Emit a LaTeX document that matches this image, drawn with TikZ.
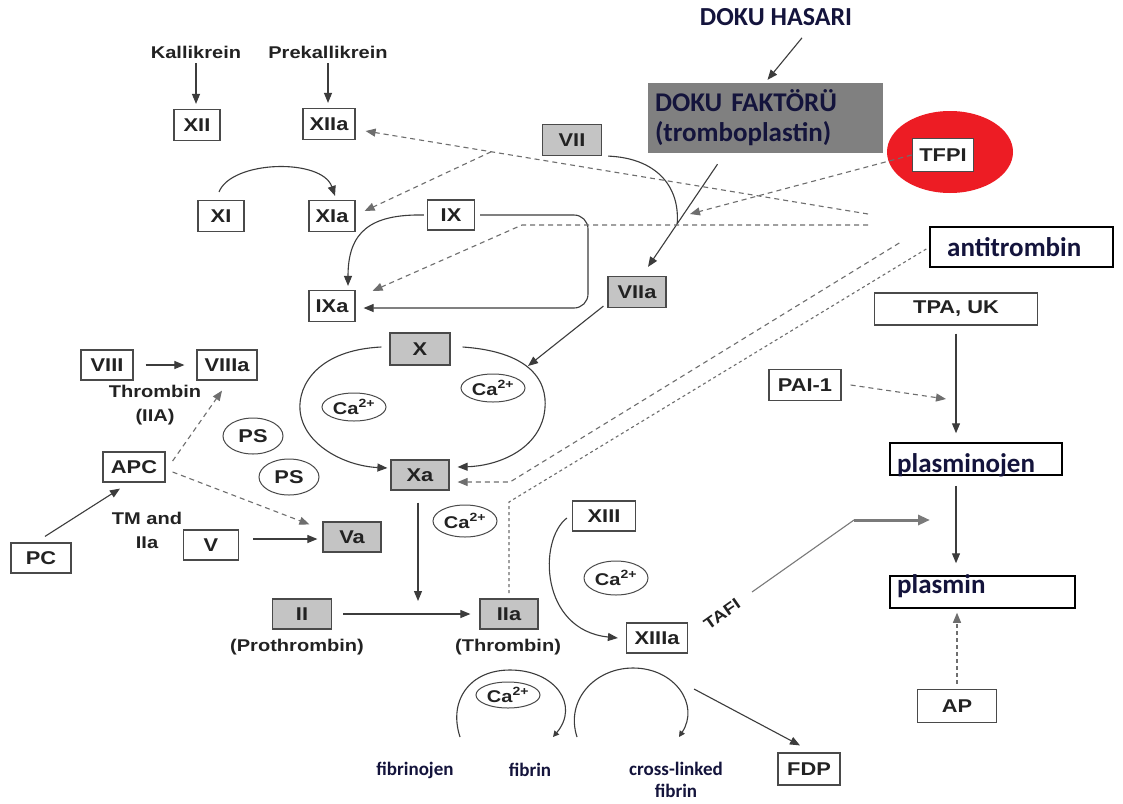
\documentclass[tikz,border=0pt]{standalone}
\usepackage{fontspec}
\usetikzlibrary{arrows.meta,shapes.geometric,calc}
\newfontfamily\scanfont{Liberation Sans}[FakeStretch=1.18]
\newfontfamily\calfont{Carlito}
\newcommand\lblfont{\scanfont\bfseries\fontsize{17}{20}\selectfont}
\newcommand\bxfont{\scanfont\bfseries\fontsize{18.5}{21}\selectfont}
\newcommand\cafont{\scanfont\bfseries\fontsize{17}{19}\selectfont}
\definecolor{boxfill}{HTML}{C4C4C4}
\definecolor{dfgray}{HTML}{808080}
\definecolor{bordc}{HTML}{4A4A4A}
\definecolor{linec}{HTML}{3C3C3C}
\definecolor{dashc}{HTML}{6E6E6E}
\definecolor{tfpired}{HTML}{ED1C24}
\definecolor{navy}{HTML}{14143C}
\definecolor{txtc}{HTML}{222222}
\definecolor{tafc}{HTML}{7A7A7A}
\tikzset{
 bx/.style={draw=bordc, line width=1.2pt, fill=white, inner sep=0pt, minimum height=31pt, font=\bxfont, text=txtc},
 gbx/.style={bx, fill=boxfill},
 tbox/.style={draw=black, line width=1.5pt, fill=white, inner sep=0pt},
 lab/.style={font=\lblfont, text=txtc, inner sep=0pt},
 calt/.style={font=\calfont\bfseries\fontsize{27}{30}\selectfont, text=navy, inner sep=0pt},
 cals/.style={font=\calfont\bfseries\fontsize{19}{22}\selectfont, text=navy, inner sep=0pt},
 ca/.style={ellipse, draw=bordc, line width=1pt, minimum width=64pt, minimum height=28pt, inner sep=0pt, font=\cafont, text=txtc},
 psell/.style={ellipse, draw=bordc, line width=1pt, minimum width=60pt, minimum height=36pt, inner sep=0pt, font=\bxfont, text=txtc},
 ln/.style={draw=linec, line width=1.1pt},
 arr/.style={ln, -{Triangle[length=10pt,width=8pt]}},
 sarr/.style={ln, -{Triangle[length=6pt,width=6pt]}},
 dsh/.style={draw=dashc, line width=1.1pt, dash pattern=on 5pt off 4pt},
 dar/.style={dsh, -{Triangle[length=10pt,width=8pt]}},
}
\begin{document}
\begin{tikzpicture}[x=1pt,y=-1pt]
\useasboundingbox (0,0) rectangle (1123,803);
\fill[white] (0,0) rectangle (1123,803);

% red spot behind TFPI
\node[ellipse, fill=tfpired, minimum width=126pt, minimum height=82pt, inner sep=0pt] (redspot) at (950,152) {};

% top texts
\node[lab] (kal) at (196,52) {Kallikrein};
\node[lab] (prek) at (328,52) {Prekallikrein};
\node[calt, font=\calfont\bfseries\fontsize{26}{30}\selectfont] (dh) at (776,17) {DOKU HASARI};

% boxes
\node[bx, minimum width=46pt] (XII) at (197,125) {XII};
\node[bx, minimum width=52pt] (XIIa) at (329,124) {XIIa};
\node[bx, minimum width=46pt] (XI) at (221,216) {XI};
\node[bx, minimum width=46pt] (XIa) at (332,216) {XIa};
\node[bx, minimum width=47pt, minimum height=30pt] (IX) at (451,215) {IX};
\node[bx, minimum width=46pt] (IXa) at (332,306) {IXa};
\node[gbx, minimum width=59pt] (VII) at (572,140) {VII};
\node[gbx, minimum width=58pt] (VIIa) at (637,292) {VIIa};
\node[gbx, minimum width=60pt, minimum height=32pt] (X) at (420,349) {X};
\node[gbx, minimum width=58pt, minimum height=30pt] (Xa) at (420,475) {Xa};
\node[bx, minimum width=52pt, minimum height=30pt] (VIII) at (107,365) {VIII};
\node[bx, minimum width=60pt, minimum height=30pt] (VIIIa) at (227,365) {VIIIa};
\node[bx, minimum width=62pt, minimum height=30pt] (APC) at (134,467) {APC};
\node[bx, minimum width=60pt, minimum height=30pt] (PC) at (41,558) {PC};
\node[bx, minimum width=55pt, minimum height=30pt] (V) at (211,545) {V};
\node[gbx, minimum width=58pt, minimum height=30pt] (Va) at (352,537) {Va};
\node[gbx, minimum width=59pt, minimum height=30pt] (II) at (302,614) {II};
\node[gbx, minimum width=58pt, minimum height=30pt] (IIa) at (509,614) {IIa};
\node[bx, minimum width=63pt, minimum height=30pt] (XIII) at (604,516) {XIII};
\node[bx, minimum width=61pt, minimum height=30pt] (XIIIa) at (657,638) {XIIIa};
\node[bx, minimum width=62pt, minimum height=32pt] (FDP) at (809,769) {FDP};
\node[bx, minimum width=79pt, minimum height=33pt] (AP) at (957,706) {AP};
\node[bx, minimum width=72pt] (PAI) at (805,385) {PAI-1};
\node[bx, minimum width=163pt, minimum height=32pt] (TPA) at (956,309) {TPA, UK};
\node[bx, minimum width=61pt, minimum height=33pt, line width=1.6pt] (TFPI) at (943,155) {TFPI};

% Doku faktoru
\node[fill=dfgray, minimum width=235pt, minimum height=70pt, text width=221pt, align=left, inner xsep=7pt, inner ysep=0pt, calt, text=navy] (DF) at (765.5,118) {DOKU FAKTÖRÜ\\(tromboplastin)};

% right side boxes
\node[tbox, minimum width=183pt, minimum height=40pt] (AT) at (1021.5,247) {};
\node[calt, anchor=base west] (ATt) at (947,256) {antitrombin};
\node[tbox, minimum width=172pt, minimum height=32pt] (plg) at (976,459) {};
\node[calt, anchor=base west] (plgt) at (897,472) {plasminojen};
\node[tbox, minimum width=185pt, minimum height=32pt] (pls) at (982.5,592) {};
\node[calt, anchor=base west] (plst) at (897,593) {plasmin};

% Ca and PS ellipses
\node[ca] (ca1) at (354,407) {Ca\textsuperscript{2+}};
\node[ca] (ca2) at (493,388) {Ca\textsuperscript{2+}};
\node[ca, minimum height=32pt] (ca3) at (465,521) {Ca\textsuperscript{2+}};
\node[ca, minimum height=34pt] (ca4) at (616,578) {Ca\textsuperscript{2+}};
\node[ca, minimum height=26pt] (ca5) at (508,695) {Ca\textsuperscript{2+}};
\node[psell] (ps1) at (253,436) {PS};
\node[psell] (ps2) at (289,477) {PS};

% labels
\node[lab, align=center] (thr) at (155,405) {Thrombin\\[4pt](IIA)};
\node[lab, align=center] (tm) at (147,530) {TM and\\[4pt]IIa};
\node[lab] (proth) at (297,647) {(Prothrombin)};
\node[lab] (thromb) at (508,647) {(Thrombin)};
\node[cals] (fbg) at (415,770) {fibrinojen};
\node[cals] (fbn) at (530,770) {fibrin};
\node[cals, align=center] (xlf) at (676,780) {cross-linked\\fibrin};
\node[lab, rotate=35, font=\scanfont\bfseries\fontsize{16}{18}\selectfont] (tafi) at (722,614) {TAFI};

% coordinates
\coordinate (dfout) at ([xshift=-48pt,yshift=-11pt]DF.south);
\coordinate (viiain) at ([xshift=11pt,yshift=9pt]VIIa.north);
\coordinate (J) at ($(dfout)!0.58!(viiain)$);
\coordinate (e1) at (868,214);
\coordinate (tipa) at ([xshift=10pt,yshift=-7pt]XIIa.east);
\coordinate (J1) at ($(e1)!0.75!(tipa)$);
\coordinate (e2) at (868,225);
\coordinate (h1) at (522,225);
\coordinate (tfpitip) at (690,214);
\coordinate (xcyc) at (528,366);
\coordinate (xadn) at (418,601);
\coordinate (at1) at ([xshift=-30pt,yshift=4pt]AT.west);
\coordinate (at2) at ([xshift=-3pt,yshift=-2pt]AT.west);
\coordinate (k1) at (510,482);
\coordinate (k2) at (509,502);
\coordinate (paitip) at (946,399);
\coordinate (taf0) at (752,592);
\coordinate (taf1) at (854,520);
\coordinate (taf2) at (930,520);
\coordinate (fdp0) at (694,689);

% top arrows
\draw[arr, shorten <=5pt, shorten >=5pt] (kal.south) -- (kal.south |- XII.north);
\draw[arr, shorten <=5pt, shorten >=5pt] (prek.south) -- (prek.south |- XIIa.north);
\draw[arr] ([xshift=-2pt,yshift=8pt]XI.north) .. controls (232,160) and (322,158) .. ([xshift=3pt,yshift=4pt]XIa.north);
\draw[arr] ([xshift=-3pt]IX.west) .. controls (370,214) and (348,232) .. ([xshift=16pt,yshift=4pt]IXa.north);
\draw[arr, rounded corners=14pt] ([xshift=5pt]IX.east) -- (588,215) -- (588,308) -- ([xshift=8pt,yshift=-2pt]IXa.east);

% tissue factor path
\draw[arr] ([xshift=26pt,yshift=-12pt]dh.south) -- ([xshift=2pt,yshift=3pt]DF.north);
\draw[arr] (dfout) -- (viiain);
\draw[ln] ([xshift=6pt]VII.south east) .. controls (655,158) and (680,185) .. (J);
\draw[arr] ([xshift=-4pt,yshift=2pt]VIIa.south west) -- (xcyc);

% dashed inhibitor lines
\draw[dar] (e1) -- (tipa);
\draw[dar] (J1) -- ([xshift=9pt,yshift=5pt]XIa.east);
\draw[dar] (e2) -- (h1) -- ([xshift=17pt,yshift=-1pt]IXa.north east);
\draw[dar] (TFPI.west) -- (tfpitip);
\draw[dar] (at1) -- (k1) -- ([xshift=8pt,yshift=-7pt]Xa.east);
\draw[dsh, dash pattern=on 3pt off 3pt, shorten >=3pt] (at2) -- (k2) -- (k2 |- IIa.north);

% X cycle
\draw[arr] ([xshift=12pt,yshift=2pt]X.east) .. controls (535,352) and (550,385) .. (544,415) .. controls (536,452) and (495,466) .. ([xshift=8pt,yshift=8pt]Xa.east);
\draw[arr] ([xshift=-8pt,yshift=2pt]X.west) .. controls (318,350) and (298,385) .. (300,410) .. controls (303,445) and (345,466) .. ([xshift=-3pt,yshift=7pt]Xa.west);
\draw[arr] ([xshift=-2pt,yshift=-12pt]Xa.south) -- (xadn);
\draw[arr] ([xshift=11pt]II.east) -- ([xshift=-9pt]IIa.west);

% left side
\draw[arr, shorten <=12pt, shorten >=12pt] (VIII.east) -- (VIIIa.west);
\draw[arr] ([xshift=4pt,yshift=6pt]PC.north) -- ([xshift=-14pt,yshift=-6pt]APC.south);
\draw[dar] ([xshift=7pt,yshift=6pt]APC.east) -- ([xshift=-5pt,yshift=-10pt]VIIIa.south);
\draw[dar] ([xshift=7pt,yshift=-5pt]APC.east) -- ([xshift=-13pt,yshift=-3pt]Va.north west);
\draw[arr] ([xshift=14pt,yshift=6pt]V.east) -- ([xshift=-5pt,yshift=-2pt]Va.west);

% XIII
\draw[arr] ([xshift=-5pt,yshift=-2pt]XIII.west) .. controls (538,540) and (540,630) .. ([xshift=-8pt]XIIIa.west);

% fibrin loops
\draw[sarr] (460,737) .. controls (448,700) and (470,670) .. (510,670) .. controls (555,670) and (580,705) .. (553,737);
\draw[sarr] (577,737) .. controls (565,700) and (595,668) .. (633,668) .. controls (675,668) and (700,705) .. (679,737);
\draw[arr] (fdp0) -- ([xshift=-9pt,yshift=7pt]FDP.north);

% fibrinolysis
\draw[arr, shorten <=8pt, shorten >=9pt] (TPA.south) -- (TPA.south |- plg.north);
\draw[arr, shorten <=10pt, shorten >=12pt] (TPA.south |- plg.south) -- (TPA.south |- pls.north);
\draw[dar, dash pattern=on 4pt off 3pt, shorten <=5pt, shorten >=4pt] (AP.north) -- (AP.north |- pls.south);
\draw[dar] ([xshift=9pt]PAI.east) -- (paitip);
\draw[ln, draw=tafc] (taf0) -- (taf1);
\draw[draw=tafc, line width=3pt, -{Triangle[length=12pt,width=10pt]}] (taf1) -- (taf2);
\end{tikzpicture}
\end{document}
